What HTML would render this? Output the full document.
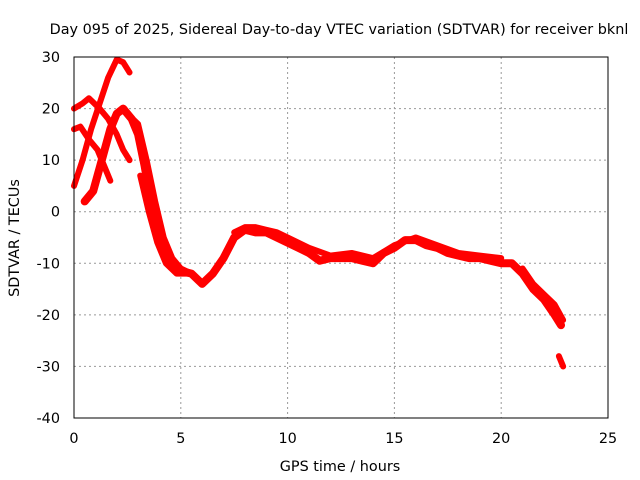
<!DOCTYPE html>
<html><head><meta charset="utf-8">
<style>
body{margin:0;background:#fff;}
svg{display:block;font-family:"DejaVu Sans","Liberation Sans",sans-serif;}
</style></head>
<body>
<svg id="chart" width="640" height="480" xmlns="http://www.w3.org/2000/svg">
<text x="339" y="34" font-size="14.4" text-anchor="middle">Day 095 of 2025, Sidereal Day-to-day VTEC variation (SDTVAR) for receiver bknl</text>
<text x="340" y="471" font-size="14.4" text-anchor="middle">GPS time / hours</text>
<text transform="translate(19,238) rotate(-90)" font-size="14.4" text-anchor="middle">SDTVAR / TECUs</text>
<g id="grid"></g>
<g id="series"></g>
<rect x="74" y="57" width="534" height="361" fill="none" stroke="#000" stroke-width="1"/>
<g id="ticks"></g>
</svg>
<script>
const xTicks=[0,5,10,15,20,25];
const yTicks=[30,20,10,0,-10,-20,-30,-40];
const seriesA=[[0,5],[0.4,10],[0.8,16],[1.2,21],[1.6,26],[2,29.5],[2.3,29],[2.6,27]];
const seriesB=[[0,20],[0.4,21],[0.7,22],[1.2,20],[1.6,18],[2,15],[2.3,12],[2.6,10]];
const seriesC=[[0,16],[0.3,16.5],[0.7,14],[1.1,12],[1.5,8],[1.7,6]];
const seriesD=[[0.5,2],[0.9,4],[1.3,10],[1.7,16],[2,19],[2.3,20],[2.7,18],[3,15],[3.3,9],[3.6,2],[4,-4],[4.5,-9],[5,-11.5],[5.5,-12],[6,-14],[6.5,-12],[7,-9],[7.5,-5],[8,-3.5],[8.5,-4],[9,-4],[9.5,-5],[10,-6],[10.5,-7],[11,-8],[11.5,-9.5],[12,-9],[12.5,-9],[13,-9],[13.5,-9.5],[14,-10],[14.5,-8],[15,-7],[15.5,-5.5],[16,-5.5],[16.5,-6.5],[17,-7],[17.5,-8],[18,-8.5],[18.5,-9],[19,-9],[19.5,-9.5],[20,-10],[20.5,-10],[21,-12],[21.5,-15],[22,-17],[22.5,-20],[22.8,-22]];
const seriesD2=[[2.5,19],[3,17],[3.4,10],[3.8,2],[4.2,-5],[4.6,-9],[5,-11],[5.5,-12]];
const seriesD3=[[3.1,7],[3.5,0],[3.9,-6],[4.3,-10],[4.8,-12],[5.3,-12]];
const seriesD4=[[7.5,-4],[8,-3],[8.5,-3],[9,-3.5],[9.5,-4],[10,-5],[11,-7],[12,-8.5],[13,-8],[14,-9],[15,-6.5],[16,-5],[17,-6.5],[18,-8],[19,-8.5],[20,-9]];
const seriesD5=[[21,-11],[21.5,-14],[22,-16],[22.5,-18],[22.9,-21]];
const seriesE=[[22.7,-28],[22.9,-30]];
const allSeries=[["series-a",seriesA],["series-b",seriesB],["series-c",seriesC],["series-d",seriesD],["series-d2",seriesD2],["series-d3",seriesD3],["series-d4",seriesD4],["series-d5",seriesD5],["series-e",seriesE]];
const X0=74,X1=608,Y0=418,Y1=57;
const xs=v=>X0+(v-0)/(25-0)*(X1-X0);
const ys=v=>Y0-(v+40)/70*(Y0-Y1);
const NS="http://www.w3.org/2000/svg";
const grid=document.getElementById('grid'),ticks=document.getElementById('ticks'),ser=document.getElementById('series');
function mk(t,a,p){const e=document.createElementNS(NS,t);for(const k in a)e.setAttribute(k,a[k]);p.appendChild(e);return e;}
xTicks.forEach(v=>{
  const x=xs(v);
  if(v>0&&v<25){const l=mk('line',{x1:x,x2:x,y1:Y1,y2:Y0,stroke:'#999','stroke-dasharray':'2,3'},grid);
  
  }
  const t=mk('text',{x:x,y:443,'font-size':14.4,'text-anchor':'middle'},ticks);t.textContent=v;
  
  
});
yTicks.forEach(v=>{
  const y=ys(v);
  if(v<30&&v>-40){const l=mk('line',{x1:X0,x2:X1,y1:y,y2:y,stroke:'#999','stroke-dasharray':'2,3'},grid);
  
  }
  const t=mk('text',{x:60,y:y+5,'font-size':14.4,'text-anchor':'end'},ticks);t.textContent=v;
  
  
});
allSeries.forEach(([n,d])=>{
  const p=mk('polyline',{points:d.map(q=>xs(q[0])+','+ys(q[1])).join(' '),fill:'none',stroke:'#f00','stroke-width':n==='series-d'?8:6,'stroke-linejoin':'round','stroke-linecap':'round'},ser);
  
  
});
</script>
</body></html>
